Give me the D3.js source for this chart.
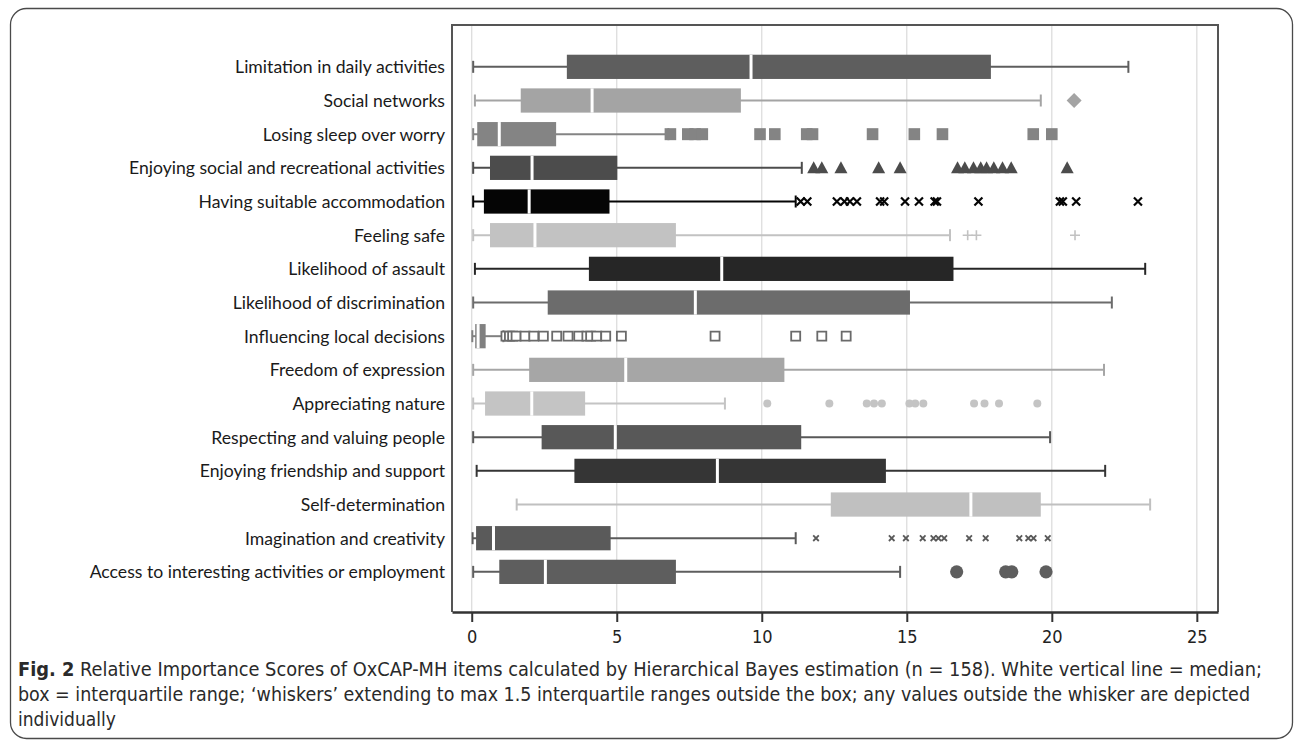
<!DOCTYPE html>
<html>
<head>
<meta charset="utf-8">
<script src="https://cdn.jsdelivr.net/npm/d3@7"></script>
<style>
  body { margin: 0; background: #fff; }
  svg { display: block; }
</style>
</head>
<body>
<div id="chart"></div>
<script>
// OxCAP-MH items, top to bottom
const items = [
  "Limitation in daily activities",
  "Social networks",
  "Losing sleep over worry",
  "Enjoying social and recreational activities",
  "Having suitable accommodation",
  "Feeling safe",
  "Likelihood of assault",
  "Likelihood of discrimination",
  "Influencing local decisions",
  "Freedom of expression",
  "Appreciating nature",
  "Respecting and valuing people",
  "Enjoying friendship and support",
  "Self-determination",
  "Imagination and creativity",
  "Access to interesting activities or employment",
];

const whiskerLow = [0.05, 0.11, 0.05, 0.05, 0.05, 0.05, 0.11, 0.05, 0.02, 0.05, 0.05, 0.05, 0.17, 1.55, 0.03, 0.05];
const q1 = [3.28, 1.69, 0.19, 0.63, 0.42, 0.63, 4.04, 2.62, 0.12, 1.98, 0.46, 2.41, 3.54, 12.38, 0.15, 0.95];
const median = [9.63, 4.15, 0.95, 2.08, 1.98, 2.18, 8.62, 7.71, 0.22, 5.31, 2.07, 4.95, 8.47, 17.21, 0.75, 2.54];
const q3 = [17.9, 9.28, 2.91, 5.02, 4.75, 7.04, 16.61, 15.11, 0.48, 10.78, 3.91, 11.36, 14.28, 19.62, 4.79, 7.04];
const whiskerHigh = [22.64, 19.62, 6.78, 11.38, 11.17, 16.49, 23.22, 22.07, 1.09, 21.8, 8.73, 19.94, 21.84, 23.39, 11.17, 14.77];

const outliers = [
  [],
  [20.77],
  [6.85, 7.45, 7.7, 7.95, 9.94, 10.45, 11.55, 11.75, 13.82, 15.26, 16.23, 19.36, 20.0],
  [11.79, 12.07, 12.73, 14.03, 14.77, 16.75, 17.0, 17.3, 17.55, 17.75, 18.0, 18.3, 18.6, 20.53],
  [11.34, 11.57, 12.59, 12.85, 13.04, 13.28, 14.08, 14.22, 14.94, 15.42, 15.96, 16.04, 17.47, 20.28, 20.38, 20.84, 22.97],
  [17.1, 17.4, 20.8],
  [],
  [],
  [1.18, 1.3, 1.41, 1.53, 1.84, 2.14, 2.47, 2.93, 3.32, 3.69, 3.97, 4.1, 4.31, 4.62, 5.16, 8.39, 11.17, 12.07, 12.91],
  [],
  [10.19, 12.33, 13.62, 13.87, 14.14, 15.09, 15.29, 15.57, 17.32, 17.68, 18.18, 19.5],
  [],
  [],
  [],
  [11.87, 14.48, 14.97, 15.55, 15.92, 16.09, 16.29, 17.15, 17.72, 18.88, 19.19, 19.37, 19.86],
  [16.72, 18.41, 18.62, 19.8],
];

const xTicks = [0, 5, 10, 15, 20, 25];

const captionBold = "Fig. 2";
const captionLines = [
  "  Relative Importance Scores of OxCAP-MH items calculated by Hierarchical Bayes estimation (n = 158). White vertical line = median;",
  "box = interquartile range; \u2018whiskers\u2019 extending to max 1.5 interquartile ranges outside the box; any values outside the whisker are depicted",
  "individually",
];

// styles per row (same order as items)
const boxColors = ["#5e5e5e", "#a4a4a4", "#848484", "#4c4c4c", "#050505", "#c2c2c2", "#262626", "#6c6c6c",
  "#808080", "#a6a6a6", "#c4c4c4", "#585858", "#353535", "#c0c0c0", "#5a5a5a", "#5e5e5e"];
const markerTypes = [null, "diamond", "square", "triangle", "times", "plus", null, null,
  "openSquare", null, "circle", null, null, null, "smallTimes", "bigCircle"];

class BoxPlot {
  constructor(_config) {
    this.config = {
      parentElement: _config.parentElement,
      width: 1295,
      height: 743,
      plot: { left: 452, right: 1218, top: 25, bottom: 612 },
      labelX: 445,
      labelTargetWidth: 210,
    };
    this.initVis();
  }

  initVis() {
    const vis = this;
    const p = vis.config.plot;

    vis.svg = d3
      .select(vis.config.parentElement)
      .append("svg")
      .attr("width", vis.config.width)
      .attr("height", vis.config.height);

    // rounded figure frame
    vis.svg
      .append("rect")
      .attr("x", 10.5)
      .attr("y", 8.5)
      .attr("width", 1282)
      .attr("height", 730)
      .attr("rx", 16)
      .attr("fill", "none")
      .attr("stroke", "#4a4a4a")
      .attr("stroke-width", 1.3);

    vis.x = d3.scaleLinear().domain([-0.68, 25.73]).range([p.left, p.right]);
    vis.y = d3
      .scaleBand()
      .domain(items)
      .range([50, 588.7])
      .paddingInner(0.28)
      .paddingOuter(0.14);

    // vertical grid
    vis.svg
      .append("g")
      .selectAll("line")
      .data(xTicks)
      .join("line")
      .attr("x1", (d) => vis.x(d))
      .attr("x2", (d) => vis.x(d))
      .attr("y1", p.top)
      .attr("y2", p.bottom)
      .attr("stroke", "#dadada")
      .attr("stroke-width", 1.2);

    // plot frame (left, top, right)
    vis.svg
      .append("path")
      .attr("d", `M${p.left},${p.bottom}V${p.top}H${p.right}V${p.bottom}`)
      .attr("fill", "none")
      .attr("stroke", "#555")
      .attr("stroke-width", 2);

    vis.xAxis = vis.svg
      .append("g")
      .attr("transform", `translate(0,${p.bottom})`);

    vis.updateVis();
  }

  markerPath(type) {
    switch (type) {
      case "diamond":
        return "M0,-7.5L7.5,0L0,7.5L-7.5,0Z";
      case "square":
        return "M-5.8,-6H5.8V6H-5.8Z";
      case "triangle":
        return "M0,-6.5L6.5,5.5H-6.5Z";
      case "times":
        return "M-4,-4L4,4M-4,4L4,-4";
      case "smallTimes":
        return "M-2.8,-2.8L2.8,2.8M-2.8,2.8L2.8,-2.8";
      case "plus":
        return "M-5,0H5M0,-5V5";
      case "openSquare":
        return "M-4.5,-4.5H4.5V4.5H-4.5Z";
      case "circle":
        return d3.symbol(d3.symbolCircle, Math.PI * 4 * 4)();
      case "bigCircle":
        return d3.symbol(d3.symbolCircle, Math.PI * 6.6 * 6.6)();
    }
    return null;
  }

  updateVis() {
    const vis = this;

    vis.data = items.map((name, i) => ({
      name,
      lo: whiskerLow[i],
      q1: q1[i],
      med: median[i],
      q3: q3[i],
      hi: whiskerHigh[i],
      out: outliers[i],
      color: boxColors[i],
      marker: markerTypes[i],
    }));

    const bw = vis.y.bandwidth();
    const cy = (d) => vis.y(d.name) + bw / 2;

    const rows = vis.svg
      .append("g")
      .selectAll("g.row")
      .data(vis.data)
      .join("g")
      .attr("class", "row");

    // whisker line
    rows
      .append("line")
      .attr("x1", (d) => vis.x(d.lo))
      .attr("x2", (d) => vis.x(d.hi))
      .attr("y1", cy)
      .attr("y2", cy)
      .attr("stroke", (d) => d.color)
      .attr("stroke-width", 2);

    // whisker caps
    rows
      .selectAll("line.cap")
      .data((d) => [d.lo, d.hi].map((v) => ({ v, d })))
      .join("line")
      .attr("class", "cap")
      .attr("x1", (e) => vis.x(e.v))
      .attr("x2", (e) => vis.x(e.v))
      .attr("y1", (e) => cy(e.d) - 6)
      .attr("y2", (e) => cy(e.d) + 6)
      .attr("stroke", (e) => e.d.color)
      .attr("stroke-width", 2);

    // box
    rows
      .append("rect")
      .attr("x", (d) => vis.x(d.q1))
      .attr("width", (d) => vis.x(d.q3) - vis.x(d.q1))
      .attr("y", (d) => vis.y(d.name))
      .attr("height", bw)
      .attr("fill", (d) => d.color);

    // median
    rows
      .append("line")
      .attr("x1", (d) => vis.x(d.med))
      .attr("x2", (d) => vis.x(d.med))
      .attr("y1", (d) => vis.y(d.name))
      .attr("y2", (d) => vis.y(d.name) + bw)
      .attr("stroke", "#fff")
      .attr("stroke-width", 3);

    // outliers
    rows
      .selectAll("path.out")
      .data((d) => d.out.map((v) => ({ v, d })))
      .join("path")
      .attr("class", "out")
      .attr("transform", (e) => `translate(${vis.x(e.v)},${cy(e.d)})`)
      .attr("d", (e) => vis.markerPath(e.d.marker))
      .attr("fill", (e) => {
        const m = e.d.marker;
        if (m === "openSquare") return "#fff";
        if (m === "times" || m === "smallTimes" || m === "plus") return "none";
        return e.d.color;
      })
      .attr("stroke", (e) => {
        const m = e.d.marker;
        if (m === "openSquare") return "#6a6a6a";
        if (m === "times" || m === "smallTimes" || m === "plus") return e.d.color;
        return "none";
      })
      .attr("stroke-width", (e) => {
        const m = e.d.marker;
        if (m === "times") return 2.2;
        if (m === "smallTimes") return 1.8;
        if (m === "plus") return 1.6;
        return 1.8;
      });

    // item labels
    const labels = vis.svg
      .append("g")
      .selectAll("text")
      .data(vis.data)
      .join("text")
      .attr("x", vis.config.labelX)
      .attr("y", cy)
      .attr("dy", "0.36em")
      .attr("text-anchor", "end")
      .style("font-family", "Lato, 'Open Sans', sans-serif")
      .style("font-size", "16px")
      .style("fill", "#1a1a1a")
      .text((d) => d.name);

    // fit label size to the reference width of the first label
    const w0 = labels.node().getComputedTextLength();
    if (w0 > 0) {
      labels.style("font-size", (16 * vis.config.labelTargetWidth) / w0 + "px");
    }

    // x axis
    vis.xAxis
      .call(
        d3
          .axisBottom(vis.x)
          .tickValues(xTicks)
          .tickSize(10)
          .tickSizeOuter(0)
          .tickPadding(8)
          .tickFormat(d3.format("d"))
      )
      .call((g) => g.select(".domain").attr("stroke", "#333").attr("stroke-width", 2.6))
      .call((g) => g.selectAll(".tick line").attr("stroke", "#333").attr("stroke-width", 2))
      .call((g) =>
        g
          .selectAll(".tick text")
          .attr("fill", "#222")
          .style("font-family", "'Liberation Sans Narrow', 'DejaVu Sans Condensed', sans-serif")
          .style("font-size", "18px")
      );

    // caption
    const cap = vis.svg
      .append("g")
      .style("font-family", "'Liberation Sans Narrow', 'DejaVu Sans Condensed', sans-serif")
      .style("font-size", "19px")
      .style("fill", "#2a2a2a");

    const line1 = cap
      .append("text")
      .attr("x", 18)
      .attr("y", 676)
      .attr("textLength", 1244)
      .attr("lengthAdjust", "spacingAndGlyphs");
    line1.append("tspan").style("font-weight", "bold").text(captionBold);
    line1.append("tspan").text(captionLines[0]);

    cap
      .append("text")
      .attr("x", 18)
      .attr("y", 701)
      .attr("textLength", 1232)
      .attr("lengthAdjust", "spacingAndGlyphs")
      .text(captionLines[1]);

    cap
      .append("text")
      .attr("x", 18)
      .attr("y", 726)
      .text(captionLines[2]);
  }
}

new BoxPlot({ parentElement: "#chart" });
</script>
</body>
</html>
